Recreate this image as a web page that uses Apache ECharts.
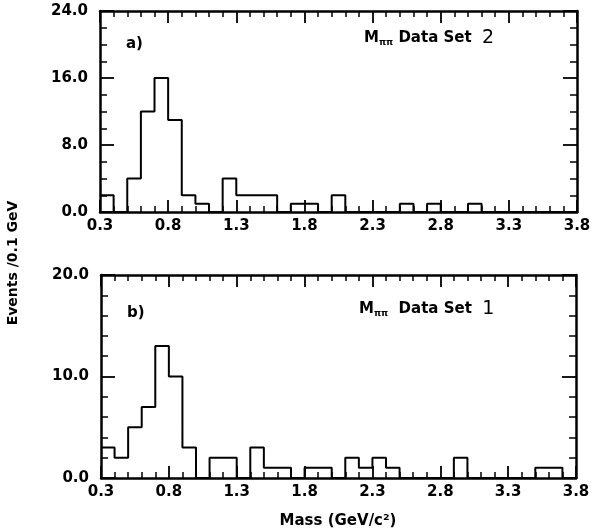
<!DOCTYPE html>
<html><head><meta charset="utf-8">
<script src="https://cdn.jsdelivr.net/npm/echarts@6/dist/echarts.min.js"></script>
<style>html,body{margin:0;padding:0;background:#fff}#c{width:594px;height:531px}</style>
</head><body><div id="c"></div>
<script>
// Lower bin edges (GeV), bin width 0.1
const binEdges = [0.3,0.4,0.5,0.6,0.7,0.8,0.9,1.0,1.1,1.2,1.3,1.4,1.5,1.6,1.7,1.8,1.9,2.0,2.1,2.2,2.3,2.4,2.5,2.6,2.7,2.8,2.9,3.0,3.1,3.2,3.3,3.4,3.5,3.6,3.7];
const binWidth = 0.1;
// Panel a) Data Set 2
const countsA = [2,0,4,12,16,11,2,1,0,4,2,2,2,0,1,1,0,2,0,0,0,0,1,0,1,0,0,1,0,0,0,0,0,0,0];
// Panel b) Data Set 1
const countsB = [3,2,5,7,13,10,3,0,2,2,0,3,1,1,0,1,1,0,2,1,2,1,0,0,0,0,2,0,0,0,0,0,1,1,0];
const xTickLabels = ['0.3','0.8','1.3','1.8','2.3','2.8','3.3','3.8'];
const yTickLabelsA = ['0.0','8.0','16.0','24.0'];
const yTickLabelsB = ['0.0','10.0','20.0'];

const FONT = 'DejaVu Sans';
const FS = 15;
function stepPoints(counts){
  const pts = binEdges.map((e,i)=>[e, counts[i]]);
  pts.push([+(binEdges[binEdges.length-1]+binWidth).toFixed(2), counts[counts.length-1]]);
  return pts;
}
const chart = echarts.init(document.getElementById('c'));
const axisLineStyle = {show:true, onZero:false, lineStyle:{color:'#000', width:2.5}};
function xAxes(gi){
  const base = {type:'value', gridIndex:gi, min:0.3, max:3.8, interval:0.5,
    axisLine:axisLineStyle, splitLine:{show:false},
    axisTick:{show:true, inside:true, length:12, lineStyle:{color:'#000', width:1.8}},
    minorTick:{show:true, splitNumber:5, length:6, lineStyle:{color:'#000', width:1.5}}};
  return [
    Object.assign({}, base, {position:'bottom', axisLabel:{show:true, margin:7, color:'#000', fontFamily:FONT, fontWeight:'bold', fontSize:FS,
      formatter:(v)=>{const s=v.toFixed(1); return xTickLabels.includes(s)?s:'';}}}),
    Object.assign({}, base, {position:'top', axisLabel:{show:false}})
  ];
}
function yAxes(gi, max, interval, minorSplit, labels){
  const base = {type:'value', gridIndex:gi, min:0, max:max, interval:interval,
    axisLine:axisLineStyle, splitLine:{show:false},
    axisTick:{show:true, inside:true, length:14, lineStyle:{color:'#000', width:1.8}},
    minorTick:{show:true, splitNumber:minorSplit, length:7, lineStyle:{color:'#000', width:1.5}}};
  return [
    Object.assign({}, base, {position:'left', axisLabel:{show:true, margin:12, color:'#000', fontFamily:FONT, fontWeight:'bold', fontSize:FS,
      formatter:(v)=>{const s=v.toFixed(1); return labels.includes(s)?s:'';}}}),
    Object.assign({}, base, {position:'right', axisLabel:{show:false}})
  ];
}
const rich = {
  sub:{fontFamily:FONT, fontWeight:'bold', fontSize:9, padding:[9,0,0,0], color:'#000'},
  big:{fontFamily:FONT, fontSize:19, color:'#000'}
};
chart.setOption({
  animation:false,
  backgroundColor:'#fff',
  grid:[
    {left:100, right:17, top:11, height:201},
    {left:101, right:18, top:275, height:203}
  ],
  xAxis:[...xAxes(0), ...xAxes(1)],
  yAxis:[...yAxes(0,24,8,4,yTickLabelsA), ...yAxes(1,20,10,5,yTickLabelsB)],
  series:[
    {type:'line', step:'end', xAxisIndex:0, yAxisIndex:0, data:stepPoints(countsA), symbol:'none',
      lineStyle:{color:'#000', width:2}},
    {type:'line', step:'end', xAxisIndex:2, yAxisIndex:2, data:stepPoints(countsB), symbol:'none',
      lineStyle:{color:'#000', width:2}}
  ],
  graphic:[
    {type:'text', left:126, top:37, style:{text:'a)', fontFamily:FONT, fontWeight:'bold', fontSize:FS, fill:'#000'}},
    {type:'text', left:127, top:306, style:{text:'b)', fontFamily:FONT, fontWeight:'bold', fontSize:FS, fill:'#000'}},
    {type:'text', left:364, top:29, style:{text:'M{sub|ππ} Data Set  {big|2}', rich:rich, fontFamily:FONT, fontWeight:'bold', fontSize:FS, fill:'#000'}},
    {type:'text', left:359, top:300, style:{text:'M{sub|ππ}  Data Set  {big|1}', rich:rich, fontFamily:FONT, fontWeight:'bold', fontSize:FS, fill:'#000'}},
    {type:'text', x:13, y:263, rotation:Math.PI/2, style:{text:'Events /0.1 GeV', align:'center', verticalAlign:'middle', fontFamily:FONT, fontWeight:'bold', fontSize:14, fill:'#000'}},
    {type:'text', x:338, y:521, style:{text:'Mass (GeV/c²)', align:'center', verticalAlign:'middle', fontFamily:FONT, fontWeight:'bold', fontSize:15, fill:'#000'}}
  ]
});
</script></body></html>
